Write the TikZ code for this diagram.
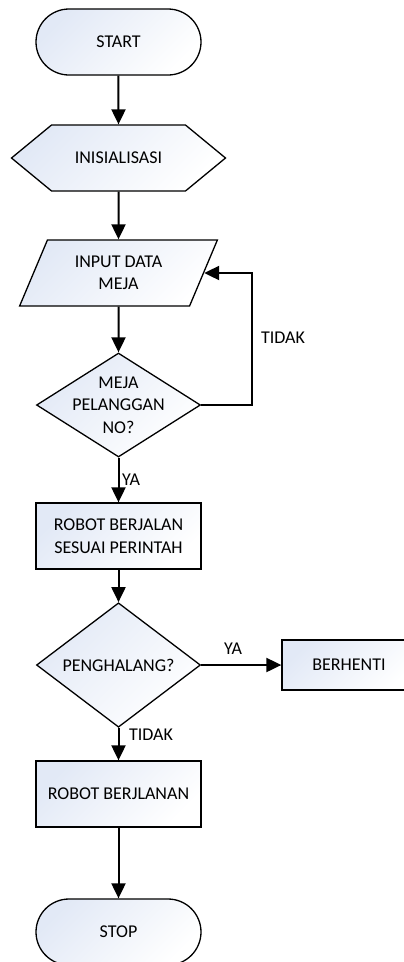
\documentclass[tikz,border=0pt]{standalone}
\usepackage{fontspec}
\setmainfont{Carlito}
\usetikzlibrary{shapes.geometric,shapes.symbols,arrows.meta}
\definecolor{gradblue}{RGB}{226,233,246}

\begin{document}
\begin{tikzpicture}[x=1pt,y=-1pt,
        font=\fontsize{18}{22.5}\selectfont,
        box/.style={draw, line width=1.3pt, top color=gradblue, bottom color=white, shading angle=45, align=center, inner sep=0pt},
        term/.style={box, rectangle, rounded corners=33pt, minimum width=165pt, minimum height=66pt},
        prep/.style={box, signal, signal to=east and west, signal pointer angle=79, minimum width=214pt, minimum height=66pt},
        io/.style={box, trapezium, trapezium left angle=63.4, trapezium right angle=116.6, trapezium stretches=true, minimum width=198pt, minimum height=66pt},
        proc/.style={box, rectangle, minimum width=165pt, minimum height=66pt},
        decision/.style={box, diamond, minimum width=164pt},
        arr/.style={line width=2pt, -{Triangle[length=15pt,width=14pt]}},
        lbl/.style={inner sep=0pt}]
            \useasboundingbox (0,0) rectangle (404,962);
            \node[term] (start) at (118.5,42) {START};
            \node[prep] (init) at (118.5,158) {INISIALISASI};
            \node[io] (input) at (118.5,273) {INPUT DATA\\MEJA};
            \node[decision, minimum height=104pt] (meja) at (118.5,405) {};
            \node[lbl, align=center] (mejatxt) at (meja) {MEJA\\PELANGGAN\\NO?};
            \node[proc] (jalan) at (118.5,536) {ROBOT BERJALAN\\SESUAI PERINTAH};
            \node[decision, minimum height=98pt] (halang) at (118.5,665) {PENGHALANG?};
            \node[box, rectangle, minimum width=134pt, minimum height=50pt] (henti) at (349,665) {BERHENTI};
            \node[proc] (jalan2) at (118.5,794) {ROBOT BERJLANAN};
            \node[term] (stop) at (118.5,932) {STOP};
            \draw[arr] (start) -- (init);
            \draw[arr] (init) -- (input);
            \draw[arr] (input) -- (meja);
            \draw[arr] (meja.east) -- ++(51,0) |- (input.east);
            \draw[arr] (meja) -- (jalan);
            \draw[arr] (jalan) -- (halang);
            \draw[arr] (halang) -- (henti);
            \draw[arr] (halang) -- (jalan2);
            \draw[arr] (jalan2) -- (stop);
            \node[lbl] (tidak1) at (283,338) {TIDAK};
            \node[lbl] (ya1) at (131,480) {YA};
            \node[lbl] (ya2) at (233,649) {YA};
            \node[lbl] (tidak2) at (151,735) {TIDAK};
        \end{tikzpicture}
\end{document}
